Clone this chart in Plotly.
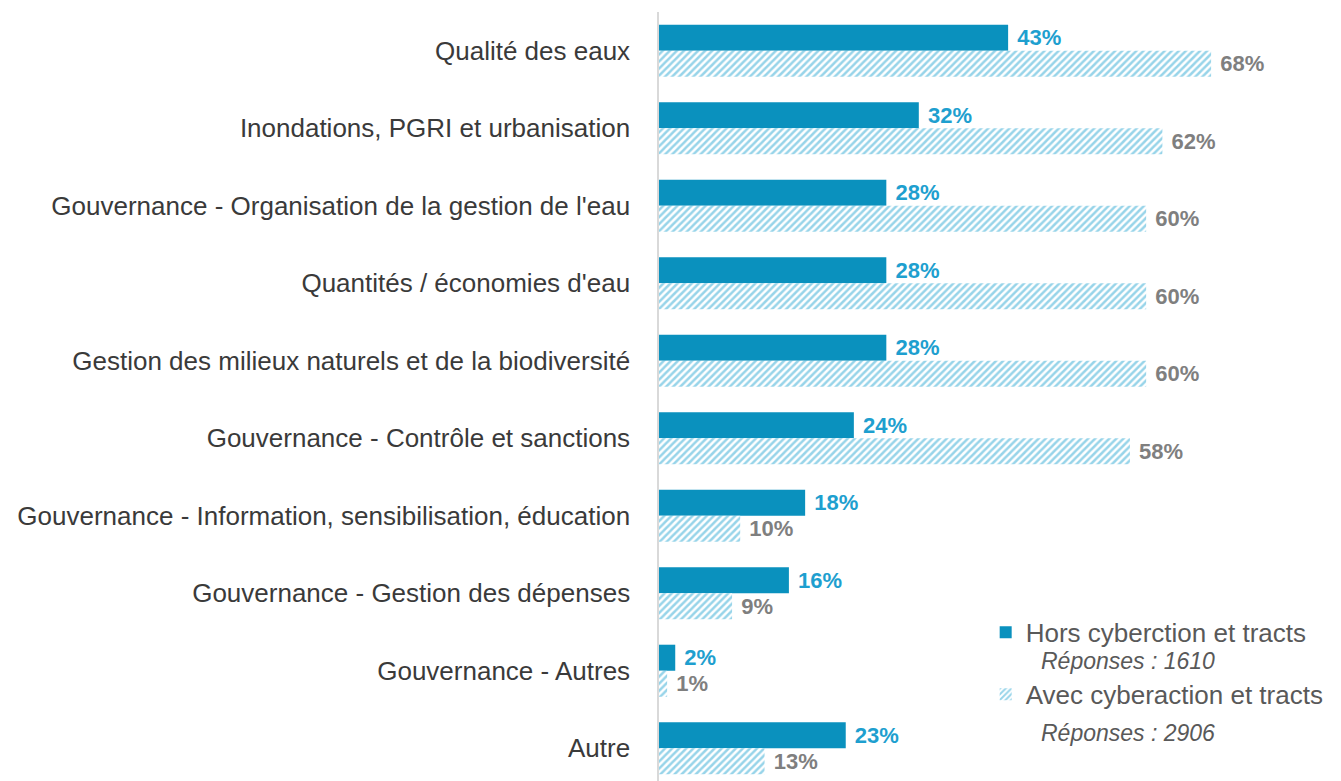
import plotly.graph_objects as go

categories = [
    "Qualité des eaux",
    "Inondations, PGRI et urbanisation",
    "Gouvernance - Organisation de la gestion de l'eau",
    "Quantités / économies d'eau",
    "Gestion des milieux naturels et de la biodiversité",
    "Gouvernance - Contrôle et sanctions",
    "Gouvernance - Information, sensibilisation, éducation",
    "Gouvernance - Gestion des dépenses",
    "Gouvernance - Autres",
    "Autre",
]
hors_cyber = [43, 32, 28, 28, 28, 24, 18, 16, 2, 23]
avec_cyber = [68, 62, 60, 60, 60, 58, 10, 9, 1, 13]

name_hors = "Hors cyberction et tracts"
name_avec = "Avec cyberaction et tracts"
reponses_hors = 1610
reponses_avec = 2906

blue = "#0A91BE"
hatch_blue = "#30A9D4"
label_blue = "#1E9FCF"
label_gray = "#7F7F7F"
font_main = "Liberation Sans"

fig = go.Figure()
fig.add_trace(go.Bar(
    y=categories, x=hors_cyber, orientation="h", name=name_hors,
    marker=dict(color=blue, line=dict(width=0)),
    text=[f" {v}%" for v in hors_cyber], textposition="outside",
    textfont=dict(color=label_blue, size=22, family=font_main, weight="bold"),
    cliponaxis=False, legend="legend",
))
fig.add_trace(go.Bar(
    y=categories, x=avec_cyber, orientation="h", name=name_avec,
    marker=dict(color="white", line=dict(width=0),
                pattern=dict(shape="/", fgcolor=hatch_blue, bgcolor="white", size=5, solidity=0.5)),
    text=[f" {v}%" for v in avec_cyber], textposition="outside",
    textfont=dict(color=label_gray, size=22, family=font_main, weight="bold"),
    cliponaxis=False, legend="legend2",
))

# legends kept in paper coords so they don't push the margins
legend_style = dict(
    xanchor="left", yanchor="middle",
    font=dict(size=26, color="#595959", family=font_main),
    itemwidth=30, bgcolor="rgba(0,0,0,0)", borderwidth=0,
)

fig.update_layout(
    width=1341, height=781,
    barmode="group", bargap=0.328, bargroupgap=0,
    plot_bgcolor="white", paper_bgcolor="white",
    margin=dict(l=651, r=8, t=4, b=2),
    font=dict(family=font_main, color="#3A3A3A"),
    xaxis=dict(range=[0, 84], visible=False),
    yaxis=dict(
        range=[9.5, -0.5], showgrid=False, ticks="",
        showline=True, linecolor="#D9D9D9", linewidth=2,
        tickfont=dict(size=26, color="#3A3A3A"), ticksuffix="   ",
    ),
    legend=dict(x=0.479, y=0.1997, **legend_style),
    legend2=dict(x=0.479, y=0.1197, **legend_style),
    showlegend=True,
)

for n, yv in [(reponses_hors, 0.162), (reponses_avec, 0.0693)]:
    fig.add_annotation(
        xref="paper", yref="paper", x=0.557, y=yv, xanchor="left", yanchor="middle",
        text=f"<i>Réponses : {n}</i>", showarrow=False,
        font=dict(size=23, color="#595959", family=font_main),
    )

fig.write_html("out.html")
